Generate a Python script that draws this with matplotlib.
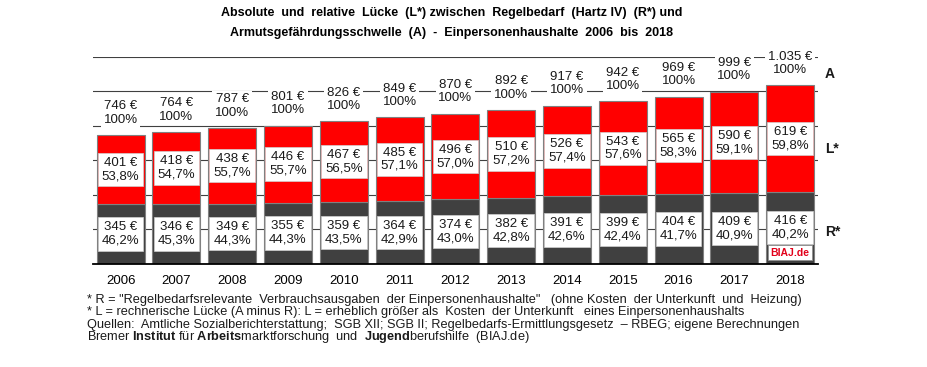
import matplotlib.pyplot as plt
import numpy as np

plt.rcParams['font.family'] = ['Liberation Sans', 'DejaVu Sans']
plt.rcParams['mathtext.fontset'] = 'custom'
plt.rcParams['mathtext.rm'] = 'Liberation Sans'
plt.rcParams['mathtext.bf'] = 'Liberation Sans:bold'

years = ['2006', '2007', '2008', '2009', '2010', '2011', '2012',
         '2013', '2014', '2015', '2016', '2017', '2018']
# A = Armutsgefährdungsschwelle, R = Regelbedarf, L = Lücke (A minus R)
A = [746, 764, 787, 801, 826, 849, 870, 892, 917, 942, 969, 999, 1035]
R = [345, 346, 349, 355, 359, 364, 374, 382, 391, 399, 404, 409, 416]
L = [401, 418, 438, 446, 467, 485, 496, 510, 526, 543, 565, 590, 619]
pct_R = ['46,2', '45,3', '44,3', '44,3', '43,5', '42,9', '43,0',
         '42,8', '42,6', '42,4', '41,7', '40,9', '40,2']
pct_L = ['53,8', '54,7', '55,7', '55,7', '56,5', '57,1', '57,0',
         '57,2', '57,4', '57,6', '58,3', '59,1', '59,8']


def euro(v):
    return '{:,}'.format(v).replace(',', '.') + ' €'


fig = plt.figure(figsize=(9.28, 3.67), dpi=100)
ax = fig.add_axes([0.0999, 0.2815, 0.7816, 0.5632])

x = np.arange(len(years))
ax.bar(x, R, width=0.86, color='#404040', edgecolor='#808080', linewidth=0.8, zorder=2)
ax.bar(x, L, width=0.86, bottom=R, color='#ff0000', edgecolor='#808080', linewidth=0.8, zorder=2)

box = dict(boxstyle='square,pad=0.3', facecolor='white', edgecolor='#d0d0d0', linewidth=0.5)
box_top = dict(boxstyle='square,pad=0.2', facecolor='white', edgecolor='none')
for i in range(len(years)):
    ax.text(x[i], R[i] / 2, '{}\n{}%'.format(euro(R[i]), pct_R[i]), ha='center', va='center',
            fontsize=9.5, color='#1a1a1a', bbox=box, zorder=4, linespacing=1.15)
    ax.text(x[i], R[i] + L[i] / 2, '{}\n{}%'.format(euro(L[i]), pct_L[i]), ha='center', va='center',
            fontsize=9.5, color='#1a1a1a', bbox=box, zorder=4, linespacing=1.15)
    ax.text(x[i], A[i] + 128, '{}\n100%'.format(euro(A[i])), ha='center', va='center',
            fontsize=9.5, color='#1a1a1a', bbox=box_top, zorder=4, linespacing=1.15)

# logo in the last bar
ax.text(x[-1], 63, 'BIAJ.de', ha='center', va='center', fontsize=7.5, fontweight='bold',
        color='#e2001a', bbox=dict(boxstyle='square,pad=0.25', facecolor='white',
                                   edgecolor='#909090', linewidth=0.6), zorder=5)

ax.set_xlim(-0.5, len(years) - 0.5)
ax.set_ylim(0, 1200)
ax.set_yticks(range(0, 1201, 200))
ax.set_yticklabels([])
ax.tick_params(axis='y', length=0)
ax.tick_params(axis='x', length=0, labelsize=9.5, pad=8)
ax.set_xticks(x)
ax.set_xticklabels(years)
ax.yaxis.grid(True, color='#404040', linewidth=0.8, zorder=0)
ax.set_axisbelow(True)
for s in ['left', 'right', 'top']:
    ax.spines[s].set_visible(False)
ax.spines['bottom'].set_linewidth(1.3)
ax.spines['bottom'].set_zorder(6)

# series labels on the right
for lab, yv in [('A', 1100), ('L*', 667), ('R*', 183)]:
    ax.text(12.62, yv, lab, ha='left', va='center', fontsize=10, fontweight='bold', color='#1a1a1a')

fig.text(0.487, 0.9646, 'Absolute  und  relative  Lücke  (L*) zwischen  Regelbedarf  (Hartz IV)  (R*) und',
         ha='center', va='center', fontsize=9, fontweight='bold')
fig.text(0.487, 0.910, 'Armutsgefährdungsschwelle  (A)  -  Einpersonenhaushalte  2006  bis  2018',
         ha='center', va='center', fontsize=9, fontweight='bold')

notes = ['* R = "Regelbedarfsrelevante  Verbrauchsausgaben  der Einpersonenhaushalte"   (ohne Kosten  der Unterkunft  und  Heizung)',
         '* L = rechnerische Lücke (A minus R): L = erheblich größer als  Kosten  der Unterkunft   eines Einpersonenhaushalts',
         'Quellen:  Amtliche Sozialberichterstattung;  SGB XII; SGB II; Regelbedarfs-Ermittlungsgesetz  – RBEG; eigene Berechnungen',
         r'Bremer $\mathbf{Institut}$ für $\mathbf{Arbeits}$marktforschung  und  $\mathbf{Jugend}$berufshilfe  (BIAJ.de)']
ny = [300, 312.5, 324.8, 337.2]
x0 = 87
for t, yp in zip(notes, ny):
    fig.text(x0 / 928, 1 - yp / 367, t, ha='left', va='center', fontsize=9.2, color='#1a1a1a')

fig.savefig('out.png', dpi=100)
